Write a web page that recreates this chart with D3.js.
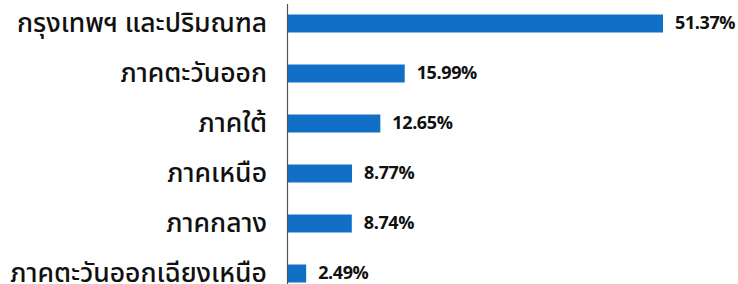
<!DOCTYPE html>
<html>
<head>
<meta charset="utf-8">
<script src="https://cdn.jsdelivr.net/npm/d3@7"></script>
<style>
  html, body { margin: 0; padding: 0; background: #fff; }
  svg { display: block; }
</style>
</head>
<body>
<div id="chart"></div>
<script>
/** Data */
const categories = [
  "กรุงเทพฯ และปริมณฑล",
  "ภาคตะวันออก",
  "ภาคใต้",
  "ภาคเหนือ",
  "ภาคกลาง",
  "ภาคตะวันออกเฉียงเหนือ",
];
const values = [51.37, 15.99, 12.65, 8.77, 8.74, 2.49];
const valueLabels = ["51.37%", "15.99%", "12.65%", "8.77%", "8.74%", "2.49%"];

/** Graph configs */
const width = 738;
const height = 284;
const axisX = 287.5;
const barColor = "#1170c6";
const fontFamily = "'Noto Sans Thai', 'Noto Sans', 'DejaVu Sans', sans-serif";

const dataset = categories.map((c, i) => ({ name: c, value: values[i], label: valueLabels[i] }));

/** Scales */
const xScale = d3.scaleLinear()
  .domain([0, d3.max(values)])
  .range([axisX + 0.5, 663]);

const yScale = d3.scaleBand()
  .domain(categories)
  .range([-1.5, 298.5])
  .paddingInner(0.64)
  .paddingOuter(0.32);

const svg = d3.select("#chart")
  .append("svg")
  .attr("width", width)
  .attr("height", height);

/** Bars */
svg.selectAll("rect.bar")
  .data(dataset)
  .enter()
  .append("rect")
  .attr("class", "bar")
  .attr("x", xScale(0))
  .attr("y", (d) => yScale(d.name))
  .attr("width", (d) => xScale(d.value) - xScale(0))
  .attr("height", yScale.bandwidth())
  .attr("fill", barColor);

/** Axis line on the left of the bars */
svg.append("line")
  .attr("x1", axisX)
  .attr("x2", axisX)
  .attr("y1", 4)
  .attr("y2", height)
  .attr("stroke", "#555")
  .attr("stroke-width", 1.2);

/** Category labels */
svg.selectAll("text.cat")
  .data(dataset)
  .enter()
  .append("text")
  .attr("class", "cat")
  .attr("x", 267)
  .attr("y", (d) => yScale(d.name) + yScale.bandwidth() / 2)
  .attr("dy", "0.33em")
  .attr("text-anchor", "end")
  .attr("font-family", fontFamily)
  .attr("font-size", 26.5)
  .attr("font-weight", 500)
  .attr("fill", "#111")
  .text((d) => d.name);

/** Value labels */
svg.selectAll("text.val")
  .data(dataset)
  .enter()
  .append("text")
  .attr("class", "val")
  .attr("x", (d) => xScale(d.value) + 12)
  .attr("y", (d) => yScale(d.name) + yScale.bandwidth() / 2)
  .attr("dy", "0.33em")
  .attr("font-family", fontFamily)
  .attr("font-size", 18)
  .attr("font-weight", 700)
  .attr("letter-spacing", -0.4)
  .attr("fill", "#111")
  .text((d) => d.label);
</script>
</body>
</html>
